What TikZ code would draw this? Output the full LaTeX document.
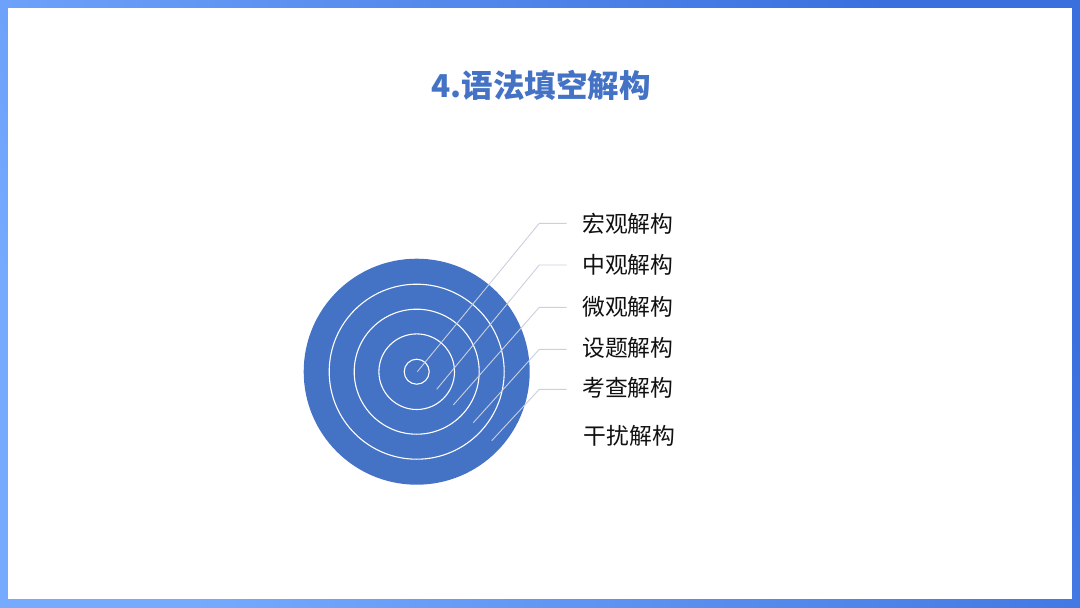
\documentclass[tikz,border=0pt]{standalone}
\usepackage{fontspec}
\newfontfamily\cjk{Noto Sans CJK SC}
\usetikzlibrary{calc}
\definecolor{ringblue}{HTML}{4472C4}
\definecolor{titleblue}{HTML}{4472C4}
\definecolor{frameA}{HTML}{76AAFF}
\definecolor{frameB}{HTML}{3A70DE}
\definecolor{leader}{HTML}{C9D0DE}
\definecolor{labeltext}{HTML}{111111}
\tikzset{
  ring/.style={draw=white, line width=1.1pt},
  leaderline/.style={draw=leader, line width=0.9pt},
  lbl/.style={anchor=west, inner sep=0pt, font=\cjk\fontsize{22.8}{26}\selectfont, text=labeltext},
}
\begin{document}
\begin{tikzpicture}[x=1pt,y=-1pt]
\useasboundingbox (0,0) rectangle (1080,608);
\shade[shading=axis, left color=frameA, right color=frameB, shading angle=120] (0,0) rectangle (1080,608);
\fill[white] (8,8) rectangle (1072,599);
% title
\node[inner sep=0pt, font=\cjk\bfseries\fontsize{31.5}{36}\selectfont, text=titleblue] (title) at (541,85) {4.语法填空解构};
% target
\coordinate (c) at (416.7,371.7);
\fill[ringblue] (c) circle (113);
\draw[ring] (c) circle (87.5);
\draw[ring] (c) circle (62.5);
\draw[ring] (c) circle (37.8);
\draw[ring] (c) circle (12.5);
% anchor points inside the target
\coordinate (p1) at (417.3,371.7);
\coordinate (p2) at (436.7,389.3);
\coordinate (p3) at (453.3,405.0);
\coordinate (p4) at (473.3,422.7);
\coordinate (p5) at (491.7,440.7);
% elbows and ends
\coordinate (e1) at (539.3,223.3); \coordinate (f1) at (566.7,223.3);
\coordinate (e2) at (539.3,265.0); \coordinate (f2) at (566.7,265.0);
\coordinate (e3) at (539.3,307.3); \coordinate (f3) at (566.7,307.3);
\coordinate (e4) at (539.3,349.3); \coordinate (f4) at (566.7,349.3);
\coordinate (e5) at (539.3,389.3); \coordinate (f5) at (566.7,389.3);
\draw[leaderline] (p1) -- (e1) -- (f1);
\draw[leaderline] (p2) -- (e2) -- (f2);
\draw[leaderline] (p3) -- (e3) -- (f3);
\draw[leaderline] (p4) -- (e4) -- (f4);
\draw[leaderline] (p5) -- (e5) -- (f5);
% labels
\node[lbl] (l1) at (582,224) {宏观解构};
\node[lbl] (l2) at (582,265) {中观解构};
\node[lbl] (l3) at (582,307) {微观解构};
\node[lbl] (l4) at (582,348) {设题解构};
\node[lbl] (l5) at (582,388) {考查解构};
\node[lbl] (l6) at (583.5,436) {干扰解构};
\end{tikzpicture}
\end{document}
